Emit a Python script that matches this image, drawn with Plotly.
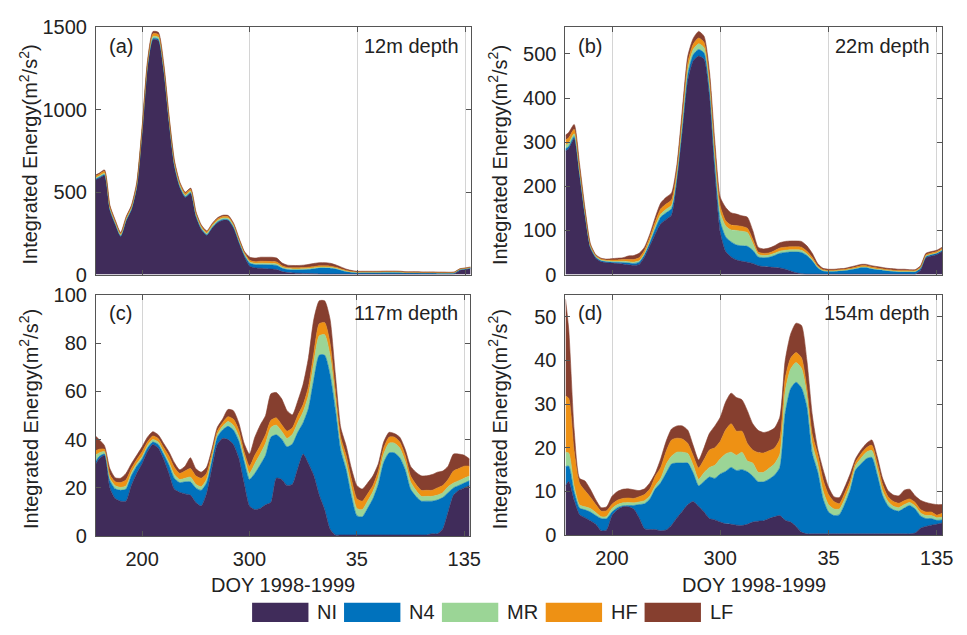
import plotly.graph_objects as go

W, H = 967, 635

# ---------------- data ----------------
doy = [157, 160, 165, 170, 175, 180, 185, 190, 195, 200,
       205, 210, 215, 220, 225, 230, 235, 240, 245, 250,
       255, 260, 265, 270, 275, 280, 285, 290, 295, 300,
       305, 310, 315, 320, 325, 330, 335, 340, 345, 350,
       355, 360, 365, 370, 375, 380, 385, 390, 395, 400,
       405, 410, 415, 420, 425, 430, 435, 440, 445, 450,
       455, 460, 465, 470, 475, 480, 485, 490, 495, 500,
       505]
tick_vals = [200, 300, 400, 500]
tick_text = ["200", "300", "35", "135"]
series_names = ["NI", "N4", "MR", "HF", "LF"]
series_colors = ["#402c5a", "#0072bd", "#9bd596", "#ee9114", "#863f2f"]

# (a) 12m depth
NI_12m = [575, 585, 600, 390, 303, 230, 323, 392, 530, 866,
          1260, 1425, 1420, 1235, 920, 655, 527, 468, 492, 350,
          272, 238, 282, 315, 330, 328, 281, 192, 108, 50,
          40, 38, 35, 33, 30, 18, 12, 10, 8, 7,
          6, 5, 4, 3, 3, 3, 3, 3, 3, 3,
          3, 3, 3, 3, 3, 3, 3, 3, 3, 3,
          3, 3, 3, 3, 3, 3, 3, 5, 25, 30,
          36]
N4_12m = [5, 5, 6, 5, 4, 4, 4, 4, 4, 5,
          6, 8, 8, 7, 6, 5, 5, 5, 5, 5,
          4, 4, 4, 4, 4, 4, 4, 5, 8, 18,
          20, 22, 24, 25, 25, 20, 18, 18, 20, 22,
          25, 30, 35, 36, 35, 30, 22, 14, 10, 8,
          9, 9, 9, 9, 10, 10, 10, 9, 7, 7,
          7, 6, 6, 6, 5, 5, 5, 5, 4, 4,
          4]
MR_12m = [8, 8, 9, 8, 7, 6, 7, 7, 8, 9,
          10, 12, 12, 11, 10, 9, 9, 9, 9, 8,
          8, 8, 8, 9, 9, 9, 9, 8, 8, 8,
          8, 9, 9, 9, 9, 7, 6, 6, 6, 6,
          6, 6, 6, 6, 6, 5, 4, 3, 2, 2,
          2, 2, 2, 2, 2, 2, 2, 2, 2, 2,
          2, 2, 2, 2, 2, 2, 2, 2, 2, 2,
          2]
HF_12m = [10, 10, 11, 9, 8, 8, 8, 9, 10, 11,
          13, 17, 17, 15, 13, 12, 11, 10, 11, 10,
          9, 9, 9, 10, 10, 10, 9, 8, 8, 10,
          10, 12, 12, 12, 12, 8, 7, 7, 7, 7,
          8, 8, 8, 8, 7, 6, 5, 4, 4, 3,
          3, 3, 3, 3, 3, 3, 3, 3, 2, 2,
          2, 2, 2, 2, 2, 2, 2, 2, 2, 2,
          2]
LF_12m = [7, 7, 9, 8, 8, 7, 8, 8, 8, 9,
          11, 13, 13, 12, 11, 9, 8, 8, 8, 7,
          7, 6, 7, 7, 7, 7, 7, 7, 8, 19,
          22, 24, 25, 26, 24, 17, 14, 14, 14, 15,
          17, 19, 19, 19, 17, 14, 11, 8, 5, 4,
          3, 3, 3, 3, 3, 3, 3, 3, 3, 3,
          3, 3, 3, 3, 3, 3, 2, 2, 2, 2,
          2]

# (b) 22m depth
NI_22m = [280, 285, 308, 225, 133, 60, 37, 29, 27, 26,
          25, 24, 22, 21, 23, 40, 65, 92, 115, 125,
          135, 212, 325, 440, 484, 495, 488, 405, 230, 95,
          52, 40, 33, 30, 28, 25, 20, 18, 17, 16,
          15, 12, 8, 4, 2, 1, 1, 1, 1, 1,
          1, 1, 1, 1, 1, 1, 1, 1, 1, 1,
          1, 1, 1, 1, 1, 1, 10, 38, 42, 45,
          52]
N4_22m = [5, 5, 5, 4, 3, 2, 2, 2, 2, 2,
          3, 3, 4, 4, 5, 5, 8, 12, 15, 15,
          14, 10, 12, 14, 14, 15, 14, 15, 20, 25,
          33, 34, 34, 35, 36, 30, 20, 20, 22, 27,
          33, 38, 43, 47, 48, 42, 30, 14, 7, 6,
          6, 7, 8, 10, 12, 15, 15, 12, 10, 9,
          7, 6, 5, 5, 5, 5, 4, 3, 3, 3,
          3]
MR_22m = [8, 8, 6, 5, 4, 2, 2, 2, 2, 2,
          2, 3, 3, 3, 3, 3, 4, 6, 7, 8,
          8, 7, 10, 12, 12, 13, 12, 12, 15, 20,
          25, 27, 33, 33, 31, 16, 6, 5, 5, 5,
          5, 5, 5, 5, 5, 4, 3, 2, 1, 1,
          1, 1, 1, 1, 1, 1, 1, 1, 1, 1,
          1, 1, 1, 1, 1, 1, 1, 1, 1, 1,
          1]
HF_22m = [12, 12, 10, 7, 5, 3, 2, 2, 2, 3,
          3, 4, 5, 6, 7, 7, 8, 10, 12, 12,
          12, 10, 15, 15, 12, 13, 12, 14, 18, 15,
          12, 11, 11, 11, 10, 9, 5, 5, 5, 6,
          7, 7, 7, 7, 7, 6, 5, 3, 2, 2,
          2, 2, 2, 2, 3, 3, 3, 3, 3, 2,
          2, 2, 2, 2, 2, 2, 2, 3, 3, 3,
          3]
LF_22m = [11, 12, 11, 9, 5, 3, 2, 2, 2, 3,
          4, 4, 8, 9, 10, 7, 7, 10, 13, 15,
          16, 11, 13, 14, 13, 15, 14, 14, 17, 20,
          30, 28, 26, 24, 25, 20, 11, 10, 11, 11,
          12, 13, 13, 13, 13, 12, 9, 5, 3, 2,
          2, 2, 2, 3, 3, 3, 3, 3, 3, 3,
          3, 3, 3, 3, 2, 2, 3, 3, 3, 3,
          3]

# (c) 117m depth
NI_117m = [30, 32, 33.5, 20, 15.6, 14.5, 14.5, 21, 26, 30,
           35, 38, 36.5, 32, 26, 19.5, 18.2, 17.5, 17, 14,
           12.5, 17.5, 28, 38, 40.5, 40, 38, 32.5, 22, 12.5,
           11, 11.5, 13, 14, 24, 23.5, 21, 21.5, 28, 34,
           30, 25, 17, 11, 3, 0.5, 0.5, 0.5, 0.5, 0.5,
           0.5, 0.5, 0.5, 0.5, 0.5, 0.5, 0.5, 0.5, 0.5, 0.5,
           0.5, 0.5, 0.5, 1, 1, 3, 10, 17, 19, 20,
           21]
N4_117m = [1, 1, 0.5, 3, 4, 4.5, 5, 4, 3, 2,
           1.5, 1, 1.5, 2, 3.5, 4.5, 4, 5, 5.5, 6,
           6.5, 4.5, 3.5, 3, 3.5, 5.5, 6, 7, 9, 11,
           15, 18, 20.5, 27, 18, 16.7, 16, 16.7, 15, 13,
           23, 40, 58, 64, 64, 52, 35, 27, 16, 8,
           7.5, 11, 15, 21, 30, 34, 34, 32, 27, 19,
           16, 14, 14, 13.5, 14, 13, 8, 3, 2, 2,
           2]
MR_117m = [2.7, 1.5, 1, 1, 1.3, 1.2, 1.3, 1.2, 1, 1,
           1, 1, 1, 1, 1.2, 1.5, 1.3, 1.5, 2, 1.5,
           1.5, 1.5, 1, 1, 1.5, 2, 2, 2, 2, 2.5,
           4, 4.5, 5, 4, 4, 3.3, 3.5, 4, 4, 4.5,
           5.5, 7, 8, 8.5, 8, 5, 3, 3, 3.5, 3,
           3, 3, 3, 3, 3.5, 4, 4, 4, 3.5, 3,
           2.5, 2, 2, 2, 2, 2, 2.5, 2, 2, 2,
           2]
HF_117m = [1.7, 1.5, 1, 1.5, 1.6, 2, 2.5, 1.8, 1.7, 2,
           1.5, 1.5, 1.5, 1.8, 2.5, 3, 2.5, 3, 3.5, 3.5,
           3.5, 2.5, 2, 1.5, 1.5, 2, 2.5, 2.5, 2, 3,
           3.5, 3.5, 3.5, 3, 3, 2.7, 3, 2.7, 3, 3,
           3.5, 4, 5, 5, 5, 3, 2.5, 3, 3.5, 4,
           3.5, 3, 2.5, 2.5, 2.5, 2.5, 2.5, 2.5, 2.5, 2.5,
           2.5, 2.5, 2.5, 2.5, 3, 3, 3, 5, 5, 5,
           4]
LF_117m = [6, 4, 1.5, 2.5, 1.7, 1.8, 2.7, 2, 1.8, 2,
           2, 1.8, 1.5, 1.7, 1.8, 2, 1.5, 2, 4.5, 3,
           2.5, 2.5, 1.5, 1.5, 1.5, 3, 3.5, 3, 3.5, 5,
           7.5, 8.5, 8, 11, 10.5, 10.7, 8.5, 5.4, 6, 8.5,
           12, 14, 9.5, 9, 10, 6.5, 4, 4, 4.5, 5.5,
           5, 4.5, 4, 3, 2.5, 2, 1.5, 2, 2.5, 4,
           5, 6, 6, 6.5, 6.5, 6, 5.5, 7, 6, 4.5,
           3]

# (d) 154m depth
NI_154m = [11.3, 12.3, 8, 4.7, 4, 3.3, 2.5, 1, 1.2, 4.5,
           5.8, 6.5, 6.5, 6, 4, 1.5, 1.3, 1.3, 1, 1.2,
           2.3, 4, 5.5, 7, 7.7, 6.6, 5.3, 3.8, 3.5, 3,
           2.6, 2.5, 2.3, 2.2, 2.5, 3, 3.2, 3.3, 3.8, 4.2,
           4.5, 3.4, 3, 2, 0.7, 0.3, 0.3, 0.3, 0.3, 0.3,
           0.3, 0.3, 0.3, 0.3, 0.3, 0.3, 0.3, 0.3, 0.3, 0.3,
           0.3, 0.3, 0.3, 0.3, 0.3, 0.5, 1.6, 2, 2.3, 2.5,
           2.8]
N4_154m = [4.4, 3.5, 2, 1.5, 1.8, 2, 2, 2.8, 2.6, 0.8,
           0.5, 0.2, 0.3, 0.8, 3, 5.7, 7, 9.3, 11, 13,
           14, 12.5, 11, 9.5, 6.5, 4.7, 7, 9.5, 9.5, 11,
           12, 13, 12.5, 12.8, 12, 10.5, 9, 8.9, 9, 9.5,
           11, 24.5, 30.5, 33, 33, 29, 18.4, 14.2, 8, 5,
           4.2, 4.4, 6.8, 10, 14.6, 16, 17.2, 17.5, 13.5, 8.7,
           6.4, 5.5, 5.2, 5.9, 6.5, 5.5, 2.8, 1.8, 1.5, 0.9,
           0.7]
MR_154m = [3.3, 3, 1.2, 0.7, 0.7, 0.8, 0.7, 0.4, 0.5, 0.8,
           0.7, 0.7, 0.7, 0.6, 0.6, 0.7, 0.7, 0.7, 1, 2,
           1.8, 2.5, 2.5, 2.2, 1.8, 1.5, 2, 2.2, 3, 3.5,
           4, 3.5, 3.5, 4, 2.5, 3, 2.2, 2.2, 2.5, 2.6,
           3, 5, 4.5, 4.5, 4.5, 2.9, 2.2, 1.8, 1.8, 1.7,
           1.5, 1.3, 1.2, 1.1, 1, 1.3, 1.5, 1.6, 1.4, 1.1,
           1, 0.8, 0.8, 0.8, 0.7, 0.7, 0.7, 0.7, 0.7, 0.6,
           0.6]
HF_154m = [12.9, 12.5, 8, 5, 3.7, 2.6, 1.8, 1.3, 1.3, 1,
           1, 1, 1, 1, 1.2, 1.4, 1.6, 2.2, 2.5, 3,
           3.7, 3.2, 3, 2.3, 2.2, 2.6, 3, 4, 4, 4,
           5.5, 6.5, 5.5, 4.8, 4, 3, 4.5, 4.4, 4, 3.6,
           3.5, 3, 2.5, 2.3, 2.4, 1.5, 2.2, 2.2, 2.6, 2.3,
           1.7, 1.2, 1.3, 1.1, 0.8, 1, 1, 1.2, 1.4, 1.5,
           1.1, 1.1, 1, 0.9, 0.8, 0.8, 0.8, 0.8, 0.8, 0.6,
           0.9]
LF_154m = [22.1, 15.7, 4.8, 1.1, 2.2, 1.8, 1.1, 0.8, 0.9, 1.8,
           2, 2.1, 2.1, 2, 1.4, 1.3, 1.4, 0.7, 2, 2.3,
           2.5, 2.8, 3, 3, 2.3, 1.8, 2.7, 3.8, 5, 5.5,
           6.4, 7, 7.7, 7.2, 7.5, 6, 5.1, 4.7, 4.5, 4.6,
           5, 4.1, 5.5, 6.7, 7.4, 6.3, 4.4, 1.3, 2.3, 1.7,
           1.1, 1.4, 1.4, 1.5, 0.8, 0.9, 1, 1.2, 1.4, 1.4,
           1.4, 1.5, 1.7, 2.4, 2.2, 1.5, 2.1, 2.2, 1.9, 2.4,
           2]

panel_labels = ["(a)", "(b)", "(c)", "(d)"]
depth_labels = ["12m depth", "22m depth", "117m depth", "154m depth"]
y_ranges = [[0, 1500], [0, 560], [0, 100], [0, 55]]
y_ticks = [[0, 500, 1000, 1500], [0, 100, 200, 300, 400, 500],
           [0, 20, 40, 60, 80, 100], [0, 10, 20, 30, 40, 50]]
x_title = "DOY 1998-1999"
y_title = "Integrated Energy(m<sup>2</sup>/s<sup>2</sup>)"

panel_series = [
    [NI_12m, N4_12m, MR_12m, HF_12m, LF_12m],
    [NI_22m, N4_22m, MR_22m, HF_22m, LF_22m],
    [NI_117m, N4_117m, MR_117m, HF_117m, LF_117m],
    [NI_154m, N4_154m, MR_154m, HF_154m, LF_154m],
]
for ps in panel_series:
    for s in ps:
        assert len(s) == len(doy), len(s)

# ---------------- layout geometry (pixels) ----------------
# left, right, top, bottom of each plot area
boxes = [(97, 476, 17, 273), (572, 953, 17, 273),
         (97, 475, 294, 544), (572, 953, 294, 543)]


def px(x):
    return x / W


def py(y):
    return 1 - y / H


FONT = "Arial, Liberation Sans, sans-serif"
FS = 20
fig = go.Figure()

for i, ps in enumerate(panel_series):
    k = "" if i == 0 else str(i + 1)
    for j, s in enumerate(ps):
        fig.add_trace(go.Scatter(
            x=doy, y=s, mode="lines", stackgroup="g%d" % i,
            line=dict(width=0.6, color=series_colors[j], shape="spline",
                      smoothing=0.6),
            fillcolor=series_colors[j], name=series_names[j],
            showlegend=False, xaxis="x" + k, yaxis="y" + k,
        ))

layout = dict(
    width=W, height=H, margin=dict(l=0, r=0, t=0, b=0),
    paper_bgcolor="white", plot_bgcolor="white",
    font=dict(family=FONT, size=FS, color="#222"),
    showlegend=False,
)
annotations = []
shapes = []
for i, (l, r, t, b) in enumerate(boxes):
    k = "" if i == 0 else str(i + 1)
    bottom_row = i >= 2
    layout["xaxis" + k] = dict(
        domain=[px(l), px(r)], anchor="y" + k, range=[157, 505],
        tickvals=tick_vals, ticktext=tick_text, showticklabels=bottom_row,
        ticks="inside", ticklen=5, tickcolor="#555", showline=True,
        linecolor="#555", linewidth=1, mirror="ticks",
        showgrid=True, gridcolor="#d4d4d4", gridwidth=1, zeroline=False,
        tickfont=dict(size=FS, color="#222"), ticklabelstandoff=5,
    )
    layout["yaxis" + k] = dict(
        domain=[py(b), py(t)], anchor="x" + k, range=y_ranges[i],
        tickvals=y_ticks[i], ticks="inside", ticklen=5, tickcolor="#555",
        showline=True, linecolor="#555", linewidth=1, mirror="ticks",
        showgrid=False, zeroline=False,
        tickfont=dict(size=FS, color="#222"), ticklabelstandoff=4,
    )
    # panel letter and depth text
    annotations.append(dict(text=panel_labels[i], x=px(l + 11), y=py(t + 19),
                            xref="paper", yref="paper", xanchor="left",
                            yanchor="middle", showarrow=False,
                            font=dict(size=FS, color="#222")))
    annotations.append(dict(text=depth_labels[i], x=px(r - 10), y=py(t + 19),
                            xref="paper", yref="paper", xanchor="right",
                            yanchor="middle", showarrow=False,
                            font=dict(size=FS, color="#222")))
    # y title
    annotations.append(dict(text=y_title, x=px(l - 68), y=py((t + b) / 2 + 4),
                            xref="paper", yref="paper", xanchor="center",
                            yanchor="middle", textangle=-90, showarrow=False,
                            font=dict(size=FS, color="#222")))
    if bottom_row:
        annotations.append(dict(text=x_title, x=px((l + r) / 2), y=py(595),
                                xref="paper", yref="paper", xanchor="center",
                                yanchor="middle", showarrow=False,
                                font=dict(size=FS, color="#222")))

# legend (manual, to match the wide swatches)
legend_box_x = [255, 348, 447, 552, 652]
for name, color, lx in zip(series_names, series_colors, legend_box_x):
    shapes.append(dict(type="rect", xref="paper", yref="paper",
                       x0=px(lx), x1=px(lx + 57), y0=py(633), y1=py(613),
                       fillcolor=color, line=dict(width=0)))
    annotations.append(dict(text=name, x=px(lx + 64), y=py(623),
                            xref="paper", yref="paper", xanchor="left",
                            yanchor="middle", showarrow=False,
                            font=dict(size=FS, color="#222")))

layout["annotations"] = annotations
layout["shapes"] = shapes
fig.update_layout(**layout)
fig.write_html("out.html")
